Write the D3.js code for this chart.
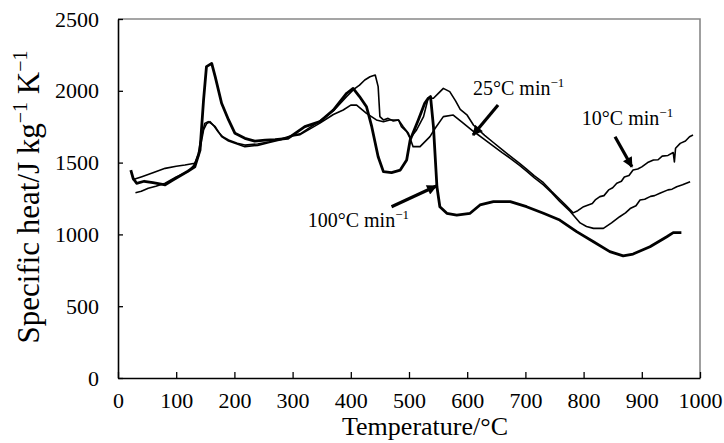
<!DOCTYPE html>
<html>
<head>
<meta charset="utf-8">
<script src="https://cdn.jsdelivr.net/npm/d3@7"></script>
<style>
  body { margin: 0; background: #fff; }
  svg text { font-family: "Liberation Serif", "Times New Roman", serif; fill: #000; }
</style>
</head>
<body>
<div class="chart"></div>
<script>
const FRAME_WIDTH = 724;
const FRAME_HEIGHT = 443;
const MARGINS = {left: 118, right: 24, top: 19, bottom: 65};

// x ticks and y ticks
const X_TICKS = [0, 100, 200, 300, 400, 500, 600, 700, 800, 900, 1000];
const Y_TICKS = [0, 500, 1000, 1500, 2000, 2500];

// [temperature, specific heat]
const RATE_100 = [[22,1448],[26,1390],[32,1356],[45,1370],[60,1360],[81,1345],[95,1380],[109,1414],
  [120,1440],[132,1471],[141,1588],[147,1936],[152,2168],[161,2191],[167,2098],[178,1913],[190,1797],
  [201,1704],[218,1669],[235,1650],[253,1657],[270,1660],[292,1669],[321,1750],[347,1785],[370,1866],
  [393,1983],[404,2017],[415,1960],[427,1889],[436,1750],[447,1541],[456,1437],[470,1430],[485,1448],
  [496,1518],[502,1657],[516,1797],[527,1913],[533,1948],[537,1960],[542,1750],[548,1332],[553,1193],
  [565,1147],[582,1135],[605,1147],[622,1205],[645,1228],[674,1228],[702,1193],[731,1147],[759,1100],
  [788,1019],[817,949],[845,880],[868,850],[885,863],[914,914],[943,984],[954,1012],[968,1012]];

const RATE_25 = [[25,1380],[41,1402],[60,1430],[81,1460],[100,1475],[115,1483],[132,1495],[138,1560],
  [141,1636],[149,1773],[155,1785],[161,1770],[167,1750],[178,1681],[190,1650],[201,1634],[218,1611],
  [240,1620],[260,1640],[280,1660],[300,1685],[313,1695],[330,1735],[347,1775],[370,1835],[387,1866],
  [400,1900],[410,1901],[427,1843],[444,1797],[456,1785],[467,1797],[482,1797],[490,1750],[499,1704],
  [507,1611],[519,1611],[536,1681],[545,1739],[559,1820],[576,1831],[590,1785],[610,1720],[630,1660],
  [645,1615],[660,1570],[674,1530],[690,1480],[702,1440],[715,1395],[731,1345],[745,1290],[759,1230],
  [777,1160],[794,1080],[805,1055],[817,1042],[834,1042],[848,1080],[862,1123],[872,1150],[880,1180],
  [890,1200],[897,1240],[905,1245],[915,1265],[922,1270],[931,1286],[945,1310],[952,1315],[960,1332],
  [970,1345],[983,1367]];

const RATE_10 = [[30,1290],[40,1300],[52,1321],[65,1335],[81,1356],[100,1400],[120,1437],[130,1480],
  [138,1541],[143,1640],[147,1727],[152,1770],[158,1785],[165,1755],[172,1715],[180,1680],[190,1657],
  [205,1635],[218,1622],[240,1630],[260,1645],[280,1665],[300,1690],[313,1700],[330,1745],[347,1790],
  [370,1860],[393,1960],[405,2010],[415,2040],[424,2075],[433,2098],[442,2110],[447,2029],[450,1820],
  [456,1797],[464,1808],[473,1790],[482,1797],[487,1750],[496,1715],[502,1669],[513,1727],[525,1820],
  [533,1950],[542,1948],[550,1980],[559,2017],[570,1994],[580,1930],[588,1870],[600,1830],[611,1760],
  [630,1690],[645,1640],[660,1590],[674,1545],[690,1495],[702,1455],[715,1410],[731,1360],[745,1300],
  [759,1245],[770,1200],[782,1150],[790,1165],[800,1193],[808,1205],[815,1215],[820,1240],[828,1263],
  [835,1270],[843,1310],[850,1325],[857,1356],[865,1370],[870,1400],[878,1410],[885,1448],[893,1455],
  [900,1470],[910,1500],[920,1518],[928,1520],[935,1545],[945,1550],[954,1570],[956,1505],[958,1600],
  [966,1634],[975,1650],[982,1680],[988,1692]];

// labels: rate, text anchor point, arrow tail, arrow tip (data units)
const LABELS = [
  {rate: "100", at: [326, 1052], from: [470, 1193], to: [547, 1337]},
  {rate: "25", at: [610, 1971], from: [653, 1901], to: [610, 1692]},
  {rate: "10", at: [797, 1762], from: [854, 1680], to: [883, 1471]}
];

const WIDTH = FRAME_WIDTH - MARGINS.left - MARGINS.right;
const HEIGHT = FRAME_HEIGHT - MARGINS.top - MARGINS.bottom;

const svg = d3.select(".chart")
  .append("svg")
  .attr("width", FRAME_WIDTH)
  .attr("height", FRAME_HEIGHT);

const X_SCALE = d3.scaleLinear().domain([0, 1000]).range([MARGINS.left, MARGINS.left + WIDTH]);
const Y_SCALE = d3.scaleLinear().domain([0, 2500]).range([MARGINS.top + HEIGHT, MARGINS.top]);

// grey frame on top and right
svg.append("path")
  .attr("d", "M" + X_SCALE(0) + "," + Y_SCALE(2500) + "H" + X_SCALE(1000) + "V" + Y_SCALE(0))
  .attr("fill", "none")
  .attr("stroke", "#888")
  .attr("stroke-width", 1.6);

const xAxis = svg.append("g")
  .attr("transform", "translate(0," + Y_SCALE(0) + ")")
  .call(d3.axisBottom(X_SCALE).tickValues(X_TICKS).tickFormat(d3.format("d"))
    .tickSizeInner(-6).tickSizeOuter(0).tickPadding(14));

const yAxis = svg.append("g")
  .attr("transform", "translate(" + X_SCALE(0) + ",0)")
  .call(d3.axisLeft(Y_SCALE).tickValues(Y_TICKS).tickFormat(d3.format("d"))
    .tickSizeInner(-5).tickSizeOuter(0).tickPadding(19));

[xAxis, yAxis].forEach(ax => {
  ax.select(".domain").attr("stroke", "#000").attr("stroke-width", 1.6);
  ax.selectAll(".tick line").attr("stroke", "#000").attr("stroke-width", 1.3);
  ax.selectAll(".tick text")
    .attr("font-family", "Liberation Serif, serif")
    .attr("font-size", "22px")
    .attr("fill", "#000");
});

const line = d3.line()
  .x(d => X_SCALE(d[0]))
  .y(d => Y_SCALE(d[1]));

svg.append("path").datum(RATE_10).attr("d", line)
  .attr("fill", "none").attr("stroke", "#000").attr("stroke-width", 1.6).attr("stroke-linejoin", "round");
svg.append("path").datum(RATE_25).attr("d", line)
  .attr("fill", "none").attr("stroke", "#000").attr("stroke-width", 1.6).attr("stroke-linejoin", "round");
svg.append("path").datum(RATE_100).attr("d", line)
  .attr("fill", "none").attr("stroke", "#000").attr("stroke-width", 2.8).attr("stroke-linejoin", "round");

// arrow head
svg.append("defs").append("marker")
  .attr("id", "head")
  .attr("viewBox", "0 0 10 10")
  .attr("refX", 9).attr("refY", 5)
  .attr("markerWidth", 4).attr("markerHeight", 3.2)
  .attr("markerUnits", "strokeWidth")
  .attr("orient", "auto")
  .append("path")
  .attr("d", "M0,0L10,5L0,10z")
  .attr("fill", "#000");

LABELS.forEach(l => {
  svg.append("line")
    .attr("x1", X_SCALE(l.from[0])).attr("y1", Y_SCALE(l.from[1]))
    .attr("x2", X_SCALE(l.to[0])).attr("y2", Y_SCALE(l.to[1]))
    .attr("stroke", "#000").attr("stroke-width", 3.2)
    .attr("marker-end", "url(#head)");

  let t = svg.append("text")
    .attr("x", X_SCALE(l.at[0]))
    .attr("y", Y_SCALE(l.at[1]))
    .attr("font-size", "20px");
  t.append("tspan").text(l.rate + "°C min");
  t.append("tspan").attr("dy", -8).attr("font-size", "13px").text("−1");
});

// axis titles
svg.append("text")
  .attr("x", 425)
  .attr("y", 435)
  .attr("text-anchor", "middle")
  .attr("font-size", "26px")
  .text("Temperature/°C");

const yTitle = svg.append("text")
  .attr("transform", "translate(39,197) rotate(-90)")
  .attr("text-anchor", "middle")
  .attr("font-size", "31px");
yTitle.append("tspan").text("Specific heat/J kg");
yTitle.append("tspan").attr("dy", -12).attr("font-size", "20px").text("−1");
yTitle.append("tspan").attr("dy", 12).text(" K");
yTitle.append("tspan").attr("dy", -12).attr("font-size", "20px").text("−1");
</script>
</body>
</html>
